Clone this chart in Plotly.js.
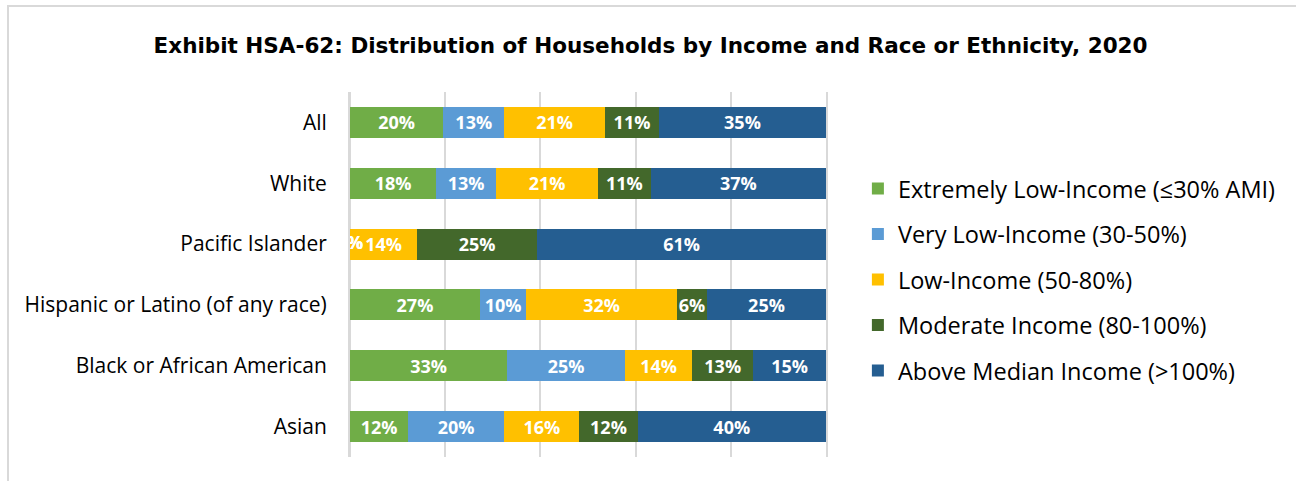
<!DOCTYPE html>
<html>
<head>
<meta charset="utf-8">
<script src="https://cdn.plot.ly/plotly-3.0.1.min.js"></script>
<style>
  html, body { margin: 0; padding: 0; background: #ffffff; }
  #frame { position: absolute; left: 7px; top: 5px; width: 1400px; height: 600px;
           border-top: 2px solid #d9d9d9; border-left: 2px solid #d9d9d9; }
  #chart { position: absolute; left: 0; top: 0; width: 1296px; height: 481px; }
</style>
</head>
<body>
<div id="frame"></div>
<div id="chart"></div>
<script>
const categories = ["All", "White", "Pacific Islander", "Hispanic or Latino (of any race)", "Black or African American", "Asian"];
const seriesNames = ["Extremely Low-Income (≤30% AMI)", "Very Low-Income (30-50%)", "Low-Income (50-80%)", "Moderate Income (80-100%)", "Above Median Income (>100%)"];
const extremelyLow = [19.6, 18.1, 0, 27.3, 33.0, 12.2];
const veryLow      = [12.8, 12.6, 0, 9.7, 24.8, 20.2];
const lowIncome    = [21.2, 21.4, 14.1, 31.7, 14.1, 15.8];
const moderate     = [11.3, 11.1, 25.2, 6.3, 12.8, 12.2];
const aboveMedian  = [35.1, 36.8, 60.7, 25.0, 15.3, 39.6];
const colors = ["#70AD47", "#5B9BD5", "#FFC000", "#43682B", "#255E91"];

const seriesValues = [extremelyLow, veryLow, lowIncome, moderate, aboveMedian];
const labelFont = { family: "Open Sans", size: 18, color: "#ffffff", weight: "bold" };

const traces = seriesValues.map((vals, i) => ({
  type: "bar",
  orientation: "h",
  name: seriesNames[i],
  legendgroup: "g" + i,
  y: categories,
  x: vals,
  marker: { color: colors[i], line: { width: 0 } },
  text: vals.map(v => v > 0 ? Math.round(v) + "%" : ""),
  textposition: "inside",
  insidetextanchor: "middle",
  textangle: 0,
  constraintext: "none",
  textfont: labelFont,
  hoverinfo: "skip"
}));

// labels for zero-width segments (placed at the segment position, clipped by the plot area)
const zx = [], zy = [], zt = [];
categories.forEach((c, j) => {
  let start = 0;
  seriesValues.forEach(vals => {
    if (vals[j] === 0) { zx.push(start + vals[j] / 2); zy.push(c); zt.push(Math.round(vals[j]) + "%"); }
    start += vals[j];
  });
});
traces.push({
  type: "scatter", mode: "text", x: zx, y: zy, text: zt,
  textposition: "middle center", textfont: labelFont,
  cliponaxis: true, showlegend: false, hoverinfo: "skip"
});

const layout = {
  width: 1296, height: 481,
  paper_bgcolor: "rgba(0,0,0,0)",
  plot_bgcolor: "rgba(0,0,0,0)",
  barmode: "stack",
  bargap: 0.49,
  margin: { l: 350, r: 470, t: 92, b: 24 },
  title: {
    text: "Exhibit HSA-62: Distribution of Households by Income and Race or Ethnicity, 2020",
    font: { family: "DejaVu Sans", size: 21.5, color: "#000000", weight: "bold" },
    x: 0.502, xref: "container", xanchor: "center",
    y: 0.906, yref: "container", yanchor: "middle"
  },
  xaxis: {
    range: [0, 100],
    dtick: 20,
    showticklabels: false,
    showgrid: true,
    gridcolor: "#d9d9d9",
    gridwidth: 2,
    zeroline: true,
    zerolinecolor: "#d9d9d9",
    zerolinewidth: 2,
    fixedrange: true
  },
  yaxis: {
    categoryorder: "array",
    categoryarray: categories,
    autorange: "reversed",
    showgrid: false,
    zeroline: false,
    showline: true,
    mirror: true,
    linecolor: "#d9d9d9",
    linewidth: 2,
    ticks: "",
    ticklabelstandoff: 17,
    tickfont: { family: "Open Sans", size: 21, color: "#000000" },
    fixedrange: true
  },
  showlegend: true,
  legend: {
    x: 1.067, xanchor: "left",
    y: 0.486, yanchor: "middle",
    traceorder: "grouped",
    tracegroupgap: 12,
    font: { family: "Open Sans", size: 23.5, color: "#000000" },
    bgcolor: "rgba(0,0,0,0)"
  }
};

Plotly.newPlot("chart", traces, layout, { displayModeBar: false, staticPlot: true });
</script>
</body>
</html>
